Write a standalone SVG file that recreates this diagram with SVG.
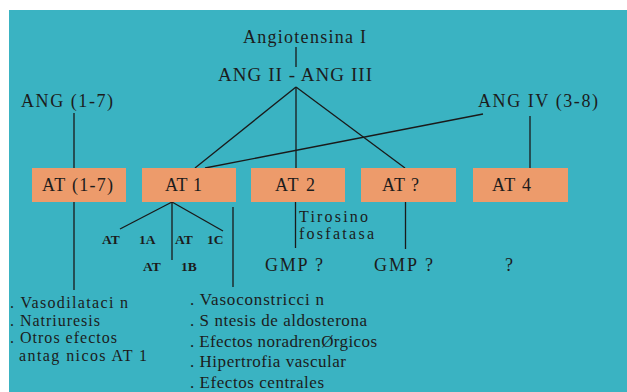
<svg xmlns="http://www.w3.org/2000/svg" width="627" height="392" viewBox="0 0 627 392">
<style>
.t{font-family:"Liberation Serif","Times New Roman",serif;font-size:18px;fill:#1c1c1c;}
.m{font-family:"Liberation Serif","Times New Roman",serif;font-size:16px;fill:#1c1c1c;}
.l{font-family:"Liberation Serif","Times New Roman",serif;font-size:17px;fill:#1c1c1c;}
.s{font-family:"Liberation Serif","Times New Roman",serif;font-size:13.5px;font-weight:bold;fill:#1c1c1c;}
.box{fill:#ED9B6B;}
.c line{stroke:#1a1a1a;stroke-width:1.3;fill:none;}
</style>
<rect x="9" y="10" width="618" height="382" fill="#3AB3C2"/>
<g class="c" id="connectors">
<line x1="296" y1="47" x2="296" y2="67"/>
<line x1="296" y1="87" x2="195" y2="168"/>
<line x1="296" y1="87" x2="296" y2="168"/>
<line x1="296" y1="87" x2="405" y2="168"/>
<line x1="483" y1="114" x2="205" y2="168"/>
<line x1="530" y1="116" x2="530" y2="168"/>
<line x1="74" y1="113" x2="74" y2="290"/>
<line x1="172" y1="202" x2="120" y2="229"/>
<line x1="172" y1="202" x2="172" y2="260"/>
<line x1="172" y1="202" x2="223" y2="231"/>
<line x1="233" y1="207" x2="233" y2="287"/>
<line x1="295.5" y1="202" x2="295.5" y2="248"/>
<line x1="405.5" y1="202" x2="405.5" y2="249"/>
</g>
<g id="angI"><text class="t" x="243" y="43" textLength="123" lengthAdjust="spacing">Angiotensina I</text></g>
<g id="angII"><text class="t" style="font-size:19px" x="218" y="81" textLength="154" lengthAdjust="spacing">ANG II - ANG III</text></g>
<g id="ang17"><text class="t" x="21" y="107" textLength="92" lengthAdjust="spacing">ANG (1-7)</text></g>
<g id="angIV"><text class="t" x="478" y="107" textLength="120" lengthAdjust="spacing">ANG IV (3-8)</text></g>
<g id="at17"><rect class="box" x="32" y="168" width="94" height="34"/><text class="t" x="42" y="191" textLength="71" lengthAdjust="spacing">AT (1-7)</text></g>
<g id="at1"><rect class="box" x="142" y="168" width="94" height="34"/><text class="t" x="165" y="191" textLength="37" lengthAdjust="spacing">AT 1</text></g>
<g id="at2"><rect class="box" x="251" y="168" width="94" height="34"/><text class="t" x="275" y="191" textLength="40" lengthAdjust="spacing">AT 2</text></g>
<g id="atq"><rect class="box" x="361" y="168" width="95" height="34"/><text class="t" x="382" y="191" textLength="37" lengthAdjust="spacing">AT ?</text></g>
<g id="at4"><rect class="box" x="473" y="168" width="95" height="34"/><text class="t" x="492" y="191" textLength="39" lengthAdjust="spacing">AT 4</text></g>
<g id="at1a"><text class="s" x="102" y="244">AT <tspan x="139">1A</tspan></text></g>
<g id="at1c"><text class="s" x="175" y="244">AT <tspan x="207">1C</tspan></text></g>
<g id="at1b"><text class="s" x="143" y="271">AT <tspan x="181">1B</tspan></text></g>
<g id="tirosino"><text class="m" x="299" y="222" textLength="69" lengthAdjust="spacing">Tirosino</text><text class="m" x="299" y="239" textLength="75" lengthAdjust="spacing">fosfatasa</text></g>
<g id="gmp1"><text class="t" x="265" y="271" textLength="58" lengthAdjust="spacing">GMP ?</text></g>
<g id="gmp2"><text class="t" x="374" y="271" textLength="59" lengthAdjust="spacing">GMP ?</text></g>
<g id="q4"><text class="t" x="505" y="271">?</text></g>
<g id="effects17">
<text class="m" x="10" y="308" textLength="118" lengthAdjust="spacing">. Vasodilataci n</text>
<text class="m" x="10" y="326" textLength="90" lengthAdjust="spacing">. Natriuresis</text>
<text class="m" x="10" y="343" textLength="107" lengthAdjust="spacing">. Otros efectos</text>
<text class="m" x="19" y="361" textLength="128" lengthAdjust="spacing">antag nicos AT 1</text>
</g>
<g id="effects1">
<text class="l" x="190" y="305" textLength="134" lengthAdjust="spacing">. Vasoconstricci n</text>
<text class="l" x="190" y="326" textLength="177" lengthAdjust="spacing">. S ntesis de aldosterona</text>
<text class="l" x="190" y="347" textLength="187" lengthAdjust="spacing">. Efectos noradrenØrgicos</text>
<text class="l" x="190" y="367" textLength="156" lengthAdjust="spacing">. Hipertrofia vascular</text>
<text class="l" x="190" y="388" textLength="134" lengthAdjust="spacing">. Efectos centrales</text>
</g>
</svg>
